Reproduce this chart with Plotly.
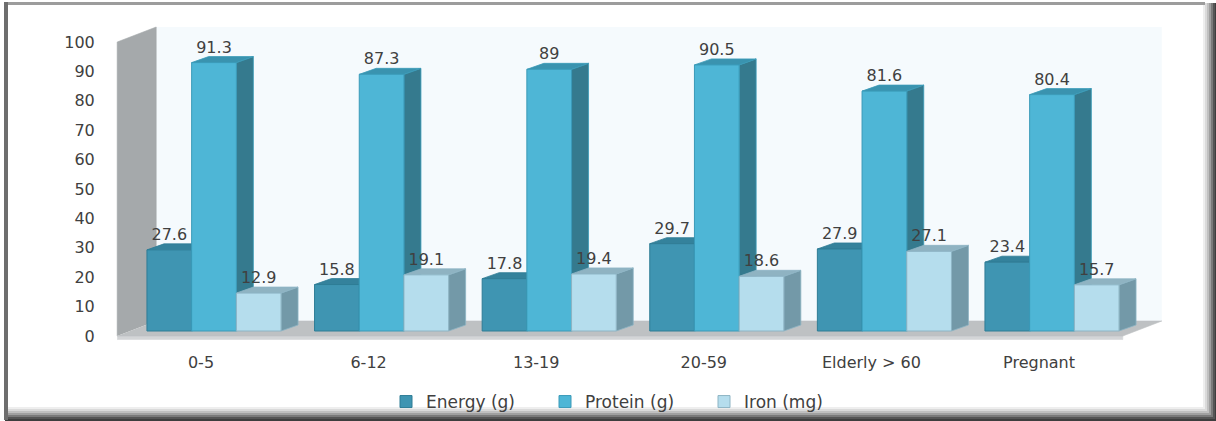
import plotly.graph_objects as go

# ---- data -------------------------------------------------------------
categories = ["0-5", "6-12", "13-19", "20-59", "Elderly > 60", "Pregnant"]
energy = [27.6, 15.8, 17.8, 29.7, 27.9, 23.4]
protein = [91.3, 87.3, 89, 90.5, 81.6, 80.4]
iron = [12.9, 19.1, 19.4, 18.6, 27.1, 15.7]
series_names = ["Energy (g)", "Protein (g)", "Iron (mg)"]
y_ticks = [0, 10, 20, 30, 40, 50, 60, 70, 80, 90, 100]

# ---- styling ----------------------------------------------------------
front_colors = ["#3F95B2", "#4EB6D6", "#B5DDED"]
top_colors = ["#34829C", "#3A93AF", "#8FB3C2"]
side_colors = ["#2F6F83", "#357A8E", "#7399A8"]
edge_colors = ["#2E7C95", "#3A9AB8", "#8DB4C4"]
FONT = "DejaVu Sans"
TEXT = "#404040"

# ---- page geometry (pixels) --------------------------------------------
W, H = 1216, 421
L, R, T, B = 110, 36, 20, 76
plot_w = W - L - R
plot_h = H - T - B
PX_PER_CAT = 167.6          # horizontal pixels per category
PX_PER_UNIT = 2.94          # vertical pixels per value unit
FRONT_X0, FRONT_Y0 = 201, 336   # category 0 / value 0 on the front plane
BAR_SHIFT = (13, -5)        # bar faces sit a little behind the front plane
FLOOR_DEPTH = (39, -15)     # depth vector of floor and wall
BAR_DEPTH = (17, -6)        # depth vector of each bar


def axis_range(origin_x, origin_y):
    xr = [(L - origin_x) / PX_PER_CAT, (L + plot_w - origin_x) / PX_PER_CAT]
    yr = [(origin_y - (T + plot_h)) / PX_PER_UNIT, (origin_y - T) / PX_PER_UNIT]
    return xr, yr


front_xr, front_yr = axis_range(FRONT_X0, FRONT_Y0)
bar_xr, bar_yr = axis_range(FRONT_X0 + BAR_SHIFT[0], FRONT_Y0 + BAR_SHIFT[1])

Dx, Dy = FLOOR_DEPTH[0] / PX_PER_CAT, -FLOOR_DEPTH[1] / PX_PER_UNIT
dx, dy = BAR_DEPTH[0] / PX_PER_CAT, -BAR_DEPTH[1] / PX_PER_UNIT

fig = go.Figure()


def polygon(xs, ys, color, xa="x", ya="y", line_color=None, lw=0.6):
    fig.add_trace(go.Scatter(
        x=xs, y=ys, xaxis=xa, yaxis=ya, mode="lines", fill="toself",
        fillcolor=color, line=dict(color=line_color or color, width=lw),
        hoverinfo="skip", showlegend=False))


# ---- back wall, side wall and floor (front-plane axes) ----------------
n = len(categories)
left, right = -0.5, n - 0.5
top = y_ticks[-1]
polygon([left + Dx, right + Dx, right + Dx, left + Dx],
        [Dy, Dy, top + Dy, top + Dy], "#F5FAFD", lw=0)
polygon([left, left, left + Dx, left + Dx],
        [0, top, top + Dy, Dy], "#A5A9AB")
polygon([left, right, right, left], [0, 0, -1.2, -1.2], "#D3D5D7")
polygon([left, right, right + Dx, left + Dx], [0, 0, Dy, Dy], "#BEC1C3")

# ---- bar tops and sides (bar-plane axes, drawn under the bar fronts) --
values = [energy, protein, iron]
bw = 0.8 / 3
offsets = [-bw, 0.0, bw]
for s, vals in enumerate(values):
    tx, ty, sx, sy = [], [], [], []
    for i, v in enumerate(vals):
        x0 = i + offsets[s] - bw / 2
        x1 = x0 + bw
        tx += [x0, x1, x1 + dx, x0 + dx, x0, None]
        ty += [v, v, v + dy, v + dy, v, None]
        sx += [x1, x1, x1 + dx, x1 + dx, x1, None]
        sy += [0, v, v + dy, dy, 0, None]
    polygon(sx, sy, side_colors[s], "x2", "y2", edge_colors[s], 0.8)
    polygon(tx, ty, top_colors[s], "x2", "y2", edge_colors[s], 0.8)

# ---- bar fronts and value labels --------------------------------------
for s, vals in enumerate(values):
    fig.add_trace(go.Bar(
        x=list(range(n)), y=vals, name=series_names[s], xaxis="x3", yaxis="y3",
        marker=dict(color=front_colors[s], line=dict(color=edge_colors[s], width=1)),
        hoverinfo="skip"))
label_gap = 14 / PX_PER_UNIT
for s, vals in enumerate(values):
    fig.add_trace(go.Scatter(
        x=[i + offsets[s] for i in range(n)], y=[v + label_gap for v in vals],
        xaxis="x3", yaxis="y3", mode="text", text=[f"{v:g}" for v in vals],
        textposition="middle center",
        textfont=dict(family=FONT, size=16, color=TEXT),
        hoverinfo="skip", showlegend=False))

hidden = dict(visible=False, showgrid=False, zeroline=False)
fig.update_layout(
    width=W, height=H, autosize=False,
    margin=dict(l=L, r=R, t=T, b=B, pad=0, autoexpand=False),
    paper_bgcolor="white", plot_bgcolor="rgba(0,0,0,0)",
    barmode="group", bargap=0.2, bargroupgap=0,
    font=dict(family=FONT, color=TEXT),
    xaxis=dict(range=front_xr, tickmode="array", tickvals=list(range(n)),
               ticktext=categories, ticks="outside", ticklen=3,
               tickcolor="rgba(0,0,0,0)", showgrid=False, zeroline=False,
               showline=False, tickfont=dict(family=FONT, size=16, color=TEXT)),
    yaxis=dict(range=front_yr, tickmode="array", tickvals=y_ticks,
               ticks="outside", ticklen=11, tickcolor="rgba(0,0,0,0)",
               showgrid=False, zeroline=False, showline=False,
               tickfont=dict(family=FONT, size=16, color=TEXT)),
    xaxis2=dict(range=bar_xr, overlaying="x", **hidden),
    yaxis2=dict(range=bar_yr, overlaying="y", **hidden),
    xaxis3=dict(range=bar_xr, overlaying="x", **hidden),
    yaxis3=dict(range=bar_yr, overlaying="y", **hidden),
    legend=dict(orientation="h", x=(386 - L) / plot_w, xanchor="left",
                y=(T + plot_h - 402) / plot_h, yanchor="middle",
                font=dict(family=FONT, size=17, color=TEXT),
                bgcolor="rgba(0,0,0,0)", itemwidth=30,
                entrywidth=114, entrywidthmode="pixels"),
)


# ---- outer frame with soft shadow ---------------------------------------
def px_rect(x0, y0, x1, y1, color):
    fig.add_shape(type="rect", xref="paper", yref="paper", layer="above",
                  x0=(x0 - L) / plot_w, x1=(x1 - L) / plot_w,
                  y0=(T + plot_h - y0) / plot_h, y1=(T + plot_h - y1) / plot_h,
                  fillcolor=color, line=dict(width=0))


shade = ["#EEEEEE", "#DADADA", "#C0C0C0", "#A0A0A0", "#7A7A7A", "#555555", "#3E3E3E"]
for k, c in enumerate(shade):
    px_rect(1203 + 2 * k, 3, 1205 + 2 * k, 421, c)
    px_rect(5, 407 + 2 * k, 1216, 409 + 2 * k, c)
px_rect(4, 2, 1205, 5, "#9C9C9C")
px_rect(4, 2, 8, 420, "#6E6E6E")

fig.write_html("out.html")
